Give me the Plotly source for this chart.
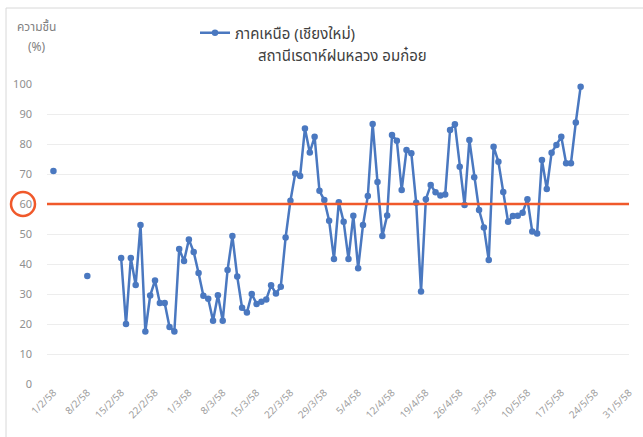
import plotly.graph_objects as go
import pandas as pd

# ---- data ----
isolated_dates = ["2015-02-01", "2015-02-08"]
isolated_values = [71, 36]

series_start = "2015-02-15"
humidity = [
    42, 20, 42, 33, 53, 17.5, 29.5, 34.5, 27, 27, 19, 17.5,
    45, 41, 48.2, 44, 37, 29.4, 28.4, 21.1, 29.6, 21.1, 38, 49.3,
    35.8, 25.4, 23.8, 30, 26.7, 27.4, 28.2, 32.9, 30.2, 32.4, 48.8, 61.1,
    70.2, 69.3, 85.2, 77.2, 82.4, 64.4, 61.3, 54.4, 41.7, 60.6, 54.1, 41.7,
    56.1, 38.6, 53, 62.7, 86.7, 67.3, 49.3, 56.2, 83, 81.1, 64.7, 78,
    76.9, 60.4, 30.8, 61.6, 66.3, 63.9, 62.8, 63.2, 84.7, 86.6, 72.4, 59.7,
    81.3, 68.9, 58, 52.2, 41.3, 79.1, 74.1, 64, 54.1, 56, 56.1, 57.1,
    61.6, 50.8, 50.2, 74.7, 65, 77.1, 79.7, 82.4, 73.6, 73.6, 87.2, 99.1,
]
threshold = 60

tick_dates = ["2015-02-01", "2015-02-08", "2015-02-15", "2015-02-22", "2015-03-01",
              "2015-03-08", "2015-03-15", "2015-03-22", "2015-03-29", "2015-04-05",
              "2015-04-12", "2015-04-19", "2015-04-26", "2015-05-03", "2015-05-10",
              "2015-05-17", "2015-05-24", "2015-05-31"]
tick_labels = ["1/2/58", "8/2/58", "15/2/58", "22/2/58", "1/3/58", "8/3/58", "15/3/58",
               "22/3/58", "29/3/58", "5/4/58", "12/4/58", "19/4/58", "26/4/58", "3/5/58",
               "10/5/58", "17/5/58", "24/5/58", "31/5/58"]

series_name = "ภาคเหนือ (เชียงใหม่)"
subtitle = "สถานีเรดาห์ฝนหลวง อมก๋อย"

# ---- build x/y with gaps so isolated points stay unconnected ----
series_dates = [d.strftime("%Y-%m-%d") for d in pd.date_range(series_start, periods=len(humidity))]
x = [isolated_dates[0], "2015-02-04", isolated_dates[1], "2015-02-11"] + series_dates
y = [isolated_values[0], None, isolated_values[1], None] + humidity

FONT = "Noto Sans Thai, Noto Sans, Open Sans, DejaVu Sans, sans-serif"
BLUE = "#4A78C0"
RED = "#F0592B"

fig = go.Figure()
fig.add_trace(go.Scatter(
    x=x, y=y, mode="lines+markers", name=series_name,
    line=dict(color=BLUE, width=2.5),
    marker=dict(color=BLUE, size=6.5),
    connectgaps=False, cliponaxis=False,
))

W, H = 643, 437
L, R, T, B = 47, 14, 84, 53
pw = W - L - R
ph = H - T - B

def px_x(p):
    return (p - L) / pw

def px_y(p):
    return 1 + (T - p) / ph

fig.update_layout(
    width=W, height=H,
    margin=dict(l=L, r=R, t=T, b=B, autoexpand=False),
    paper_bgcolor="white", plot_bgcolor="white",
    font=dict(family=FONT, color="#808080", size=11),
    showlegend=True,
    legend=dict(x=px_x(195), y=px_y(33), xanchor="left", yanchor="middle",
                font=dict(size=15, color="#404040"), bgcolor="rgba(0,0,0,0)",
                itemwidth=30),
    xaxis=dict(
        type="date",
        range=["2015-01-30 16:00", "2015-05-31 00:00"],
        tickmode="array", tickvals=tick_dates, ticktext=tick_labels,
        tickangle=-45, tickfont=dict(size=10, color="#A0A0A0"),
        showgrid=False, zeroline=False, showline=False, ticks="",
        automargin=False,
    ),
    yaxis=dict(
        range=[0, 100], tickmode="linear", tick0=0, dtick=10,
        showgrid=True, gridcolor="#EDEDED", gridwidth=1,
        zeroline=False, showline=False, ticks="",
        tickfont=dict(size=11, color="#909090"),
        ticklabelstandoff=14, automargin=False,
    ),
    shapes=[
        dict(type="line", xref="paper", yref="y", x0=0, x1=1, y0=threshold, y1=threshold,
             line=dict(color=RED, width=2.5)),
        dict(type="circle", xref="paper", yref="paper",
             x0=px_x(11), x1=px_x(35), y0=px_y(216), y1=px_y(192),
             line=dict(color=RED, width=2.5)),
        dict(type="rect", xref="paper", yref="paper",
             x0=px_x(6), x1=2, y0=-1, y1=px_y(8),
             line=dict(color="#D8D8D8", width=1)),
    ],
    annotations=[
        dict(text=subtitle, xref="paper", yref="paper", x=px_x(342), y=px_y(56),
             showarrow=False, font=dict(size=15, color="#404040"),
             xanchor="center", yanchor="middle"),
        dict(text="ความชื้น", xref="paper", yref="paper", x=px_x(36), y=px_y(27),
             showarrow=False, font=dict(size=12, color="#808080"),
             xanchor="center", yanchor="middle"),
        dict(text="(%)", xref="paper", yref="paper", x=px_x(37), y=px_y(47),
             showarrow=False, font=dict(size=12, color="#808080"),
             xanchor="center", yanchor="middle"),
    ],
)

fig.write_html("out.html", config={"displayModeBar": False},
               post_script="document.body.style.margin='0';")
